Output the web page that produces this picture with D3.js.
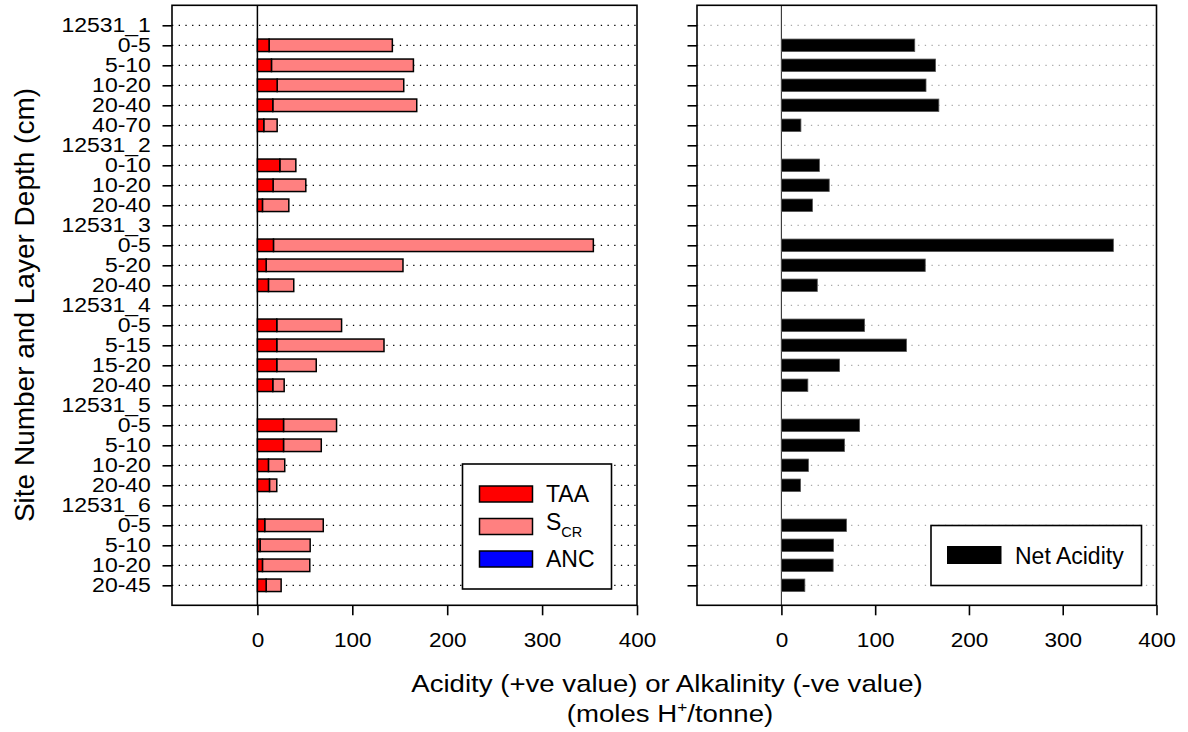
<!DOCTYPE html>
<html>
<head>
<meta charset="utf-8">
<script src="https://cdn.jsdelivr.net/npm/d3@7"></script>
<style>
  html, body { margin: 0; padding: 0; background: #fff; }
  svg { display: block; font-family: "Liberation Sans", Arial, Helvetica, sans-serif; }
</style>
</head>
<body>
<svg id="chart" width="1188" height="732"></svg>
<script>
// Site / layer rows, top to bottom
const categories = [
  "12531_1", "0-5", "5-10", "10-20", "20-40", "40-70",
  "12531_2", "0-10", "10-20", "20-40",
  "12531_3", "0-5", "5-20", "20-40",
  "12531_4", "0-5", "5-15", "15-20", "20-40",
  "12531_5", "0-5", "5-10", "10-20", "20-40",
  "12531_6", "0-5", "5-10", "10-20", "20-45"
];

// Titratable actual acidity (moles H+/tonne); null for site header rows
const taa = [
  null, 12.3, 14.8, 20.8, 16.2, 6.7,
  null, 23.6, 16.5, 5.3,
  null, 16.9, 9.2, 11.6,
  null, 20.4, 20.4, 20.4, 16.2,
  null, 27.5, 27.5, 11.6, 12.7,
  null, 7.7, 2.8, 5.3, 9.2
];

// Chromium reducible sulfur acidity (moles H+/tonne)
const scr = [
  null, 129.9, 149.6, 133.4, 151.7, 14.1,
  null, 16.9, 34.5, 27.8,
  null, 337.1, 144.2, 26.7,
  null, 68.3, 113.0, 41.6, 12.0,
  null, 55.9, 39.8, 17.2, 7.7,
  null, 61.7, 52.8, 49.9, 15.8
];

// Acid neutralising capacity (none recorded)
const anc = [
  null, 0, 0, 0, 0, 0,
  null, 0, 0, 0,
  null, 0, 0, 0,
  null, 0, 0, 0, 0,
  null, 0, 0, 0, 0,
  null, 0, 0, 0, 0
];

// Net acidity (moles H+/tonne)
const netAcidity = [
  null, 142.2, 164.4, 154.2, 167.9, 20.8,
  null, 40.5, 51.0, 33.1,
  null, 354.0, 153.4, 38.3,
  null, 88.7, 133.4, 62.0, 28.2,
  null, 83.4, 67.3, 28.8, 20.4,
  null, 69.4, 55.6, 55.2, 25.0
];

const xTicks = [0, 100, 200, 300, 400];
const xDomain = [-90, 400];

const svg = d3.select("#chart");
const plotTop = 5.3, plotBottom = 605.3;
const barH = 12.5;

// widen text horizontally around its own anchor
function widen(sel, k) {
  sel.each(function () {
    const t = d3.select(this);
    const x = +t.attr("x") || 0;
    t.attr("x", x / k).attr("transform", `scale(${k},1)`);
  });
}

// Row positions (indices keep repeated layer labels distinct)
const rows = categories.map((c, i) => i);
const y = d3.scalePoint().domain(rows).range([plotTop, plotBottom]).padding(1);

function drawPanel(x0, x1, opts) {
  const x = d3.scaleLinear().domain(xDomain).range([x0, x1]);
  const g = svg.append("g");

  // dotted row grid
  g.append("g").selectAll("line").data(rows).join("line")
    .attr("x1", x0).attr("x2", x1)
    .attr("y1", d => y(d)).attr("y2", d => y(d))
    .attr("stroke", opts.gridColor)
    .attr("stroke-width", 1.2)
    .attr("stroke-dasharray", "1.3,5.4");

  // zero line
  g.append("line")
    .attr("x1", x(0)).attr("x2", x(0))
    .attr("y1", plotTop).attr("y2", plotBottom)
    .attr("stroke", opts.zeroColor).attr("stroke-width", opts.zeroWidth);

  opts.drawBars(g, x);

  // frame
  g.append("rect")
    .attr("x", x0).attr("y", plotTop)
    .attr("width", x1 - x0).attr("height", plotBottom - plotTop)
    .attr("fill", "none").attr("stroke", "#000").attr("stroke-width", 1.6);

  // x axis
  const xAxis = d3.axisBottom(x).tickValues(xTicks).tickSize(10).tickPadding(17.4)
    .tickFormat(d3.format("d"));
  const ax = g.append("g").attr("transform", `translate(0,${plotBottom})`).call(xAxis);
  ax.select(".domain").remove();
  ax.selectAll(".tick line").attr("stroke", "#000").attr("stroke-width", 1.6);
  ax.selectAll(".tick text").attr("font-size", 20.5).attr("fill", "#000")
    .attr("font-family", "Liberation Sans, Arial, sans-serif")
    .call(widen, 1.1);

  // y axis
  const yAxis = d3.axisLeft(y).tickSize(9.5).tickPadding(11.6)
    .tickFormat(i => opts.showLabels ? categories[i] : "");
  const ay = g.append("g").attr("transform", `translate(${x0},0)`).call(yAxis);
  ay.select(".domain").remove();
  ay.selectAll(".tick line").attr("stroke", "#000").attr("stroke-width", 1.6);
  ay.selectAll(".tick text").attr("font-size", 19.5).attr("fill", "#000")
    .attr("font-family", "Liberation Sans, Arial, sans-serif")
    .call(widen, 1.18);
  return x;
}

// Left panel: stacked TAA + SCR components
drawPanel(172, 637, {
  gridColor: "#000", zeroColor: "#000", zeroWidth: 1.5, showLabels: true,
  drawBars: (g, x) => {
    const rowsWithData = rows.filter(i => taa[i] !== null);
    g.append("g").selectAll("rect.scr").data(rowsWithData).join("rect")
      .attr("x", i => x(taa[i]))
      .attr("y", i => y(i) - barH / 2)
      .attr("width", i => x(taa[i] + scr[i]) - x(taa[i]))
      .attr("height", barH)
      .attr("fill", "#ff8080").attr("stroke", "#000").attr("stroke-width", 1.5);
    g.append("g").selectAll("rect.taa").data(rowsWithData).join("rect")
      .attr("x", x(0))
      .attr("y", i => y(i) - barH / 2)
      .attr("width", i => x(taa[i]) - x(0))
      .attr("height", barH)
      .attr("fill", "#ff0000").attr("stroke", "#000").attr("stroke-width", 1.5);
    g.append("g").selectAll("rect.anc").data(rowsWithData.filter(i => anc[i] > 0)).join("rect")
      .attr("x", i => x(-anc[i]))
      .attr("y", i => y(i) - barH / 2)
      .attr("width", i => x(0) - x(-anc[i]))
      .attr("height", barH)
      .attr("fill", "#0000ff").attr("stroke", "#000").attr("stroke-width", 1.5);
  }
});

// Right panel: net acidity
drawPanel(697, 1156.5, {
  gridColor: "#aaa", zeroColor: "#333", zeroWidth: 1.1, showLabels: false,
  drawBars: (g, x) => {
    const rowsWithData = rows.filter(i => netAcidity[i] !== null);
    g.append("g").selectAll("rect").data(rowsWithData).join("rect")
      .attr("x", i => x(Math.min(0, netAcidity[i])))
      .attr("y", i => y(i) - barH / 2)
      .attr("width", i => Math.abs(x(netAcidity[i]) - x(0)))
      .attr("height", barH)
      .attr("fill", "#000").attr("stroke", "#555").attr("stroke-width", 0.8);
  }
});

// Left legend
const legend1 = [
  { label: "TAA", fill: "#ff0000", swatchY: 486, baseline: 502 },
  { label: "S", sub: "CR", fill: "#ff8080", swatchY: 518.5, baseline: 530 },
  { label: "ANC", fill: "#0000ff", swatchY: 551, baseline: 567 }
];
const lg = svg.append("g");
lg.append("rect").attr("x", 462.5).attr("y", 464).attr("width", 149).attr("height", 125)
  .attr("fill", "#fff").attr("stroke", "#000").attr("stroke-width", 1.6);
legend1.forEach(d => {
  lg.append("rect").attr("x", 479.5).attr("y", d.swatchY).attr("width", 53).attr("height", 16)
    .attr("fill", d.fill).attr("stroke", "#000").attr("stroke-width", 1.5);
  const t = lg.append("text").attr("x", 546).attr("y", d.baseline)
    .attr("font-size", 23).attr("fill", "#000").text(d.label);
  if (d.sub) {
    t.append("tspan").attr("font-size", 14.5).attr("dy", 7).text(d.sub);
  }
});

// Right legend
const lg2 = svg.append("g");
lg2.append("rect").attr("x", 931).attr("y", 525.5).attr("width", 210.5).attr("height", 60)
  .attr("fill", "#fff").attr("stroke", "#000").attr("stroke-width", 1.6);
lg2.append("rect").attr("x", 947).attr("y", 546).attr("width", 54.5).attr("height", 18)
  .attr("fill", "#000");
lg2.append("text").attr("x", 1015).attr("y", 563.5).attr("font-size", 23)
  .attr("fill", "#000").text("Net Acidity");

// Axis titles
const titleK = 1.15;
svg.append("text").attr("transform", `translate(667,692) scale(${titleK},1)`)
  .attr("text-anchor", "middle")
  .attr("font-size", 24).attr("fill", "#000")
  .text("Acidity (+ve value) or Alkalinity (-ve value)");
const t2 = svg.append("text").attr("transform", `translate(670,721.5) scale(${titleK},1)`)
  .attr("text-anchor", "middle")
  .attr("font-size", 24).attr("fill", "#000");
t2.append("tspan").text("(moles H");
t2.append("tspan").attr("font-size", 15).attr("dy", -10).text("+");
t2.append("tspan").attr("dy", 10).text("/tonne)");

svg.append("text")
  .attr("transform", "translate(34,305) rotate(-90)")
  .attr("text-anchor", "middle").attr("font-size", 28).attr("fill", "#000")
  .text("Site Number and Layer Depth (cm)");
</script>
</body>
</html>
